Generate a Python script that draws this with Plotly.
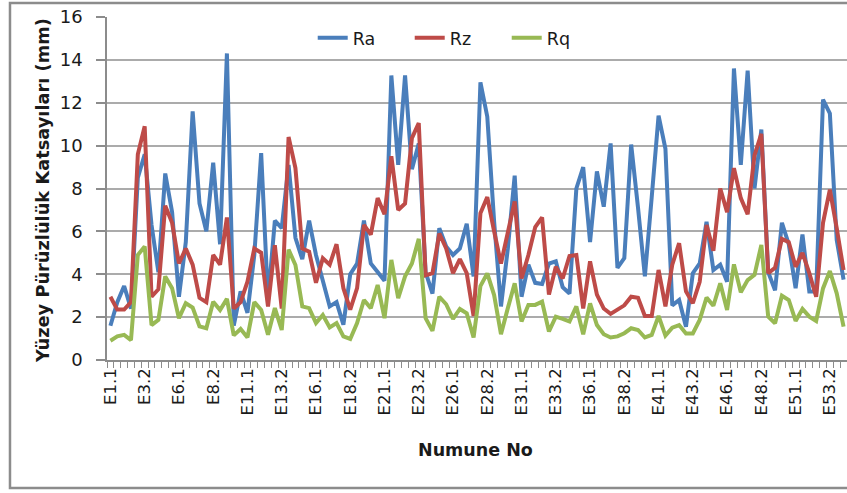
import plotly.graph_objects as go

# Sample identifiers: 54 specimens, two measurements each (E1.1 ... E54.2)
categories = [f"E{s}.{m}" for s in range(1, 55) for m in (1, 2)]

# Surface roughness parameters (mm)
ra = [1.6, 2.7, 3.45, 2.4, 8.5, 9.6, 6.3, 4.1, 8.7, 6.9,
      2.95, 5.5, 11.6, 7.3, 6.0, 9.2, 5.4, 14.3, 1.6, 3.2,
      2.2, 4.9, 9.65, 2.8, 6.5, 6.15, 9.1, 5.7, 4.7, 6.5,
      4.9, 3.65, 2.5, 2.7, 1.65, 4.0, 4.5, 6.5, 4.5, 4.1,
      3.7, 13.27, 9.1, 13.27, 8.9, 10.1, 4.1, 3.1, 6.15, 5.3,
      4.9, 5.2, 6.35, 3.9, 12.95, 11.35, 6.45, 2.5, 5.2, 8.6,
      2.95, 4.45, 3.6, 3.55, 4.5, 4.6, 3.4, 3.1, 8.0, 9.0,
      5.5, 8.8, 7.15, 10.1, 4.3, 4.75, 10.05, 7.1, 3.9, 7.6,
      11.4, 9.85, 2.55, 2.8, 1.55, 4.05, 4.5, 6.45, 4.2, 4.45,
      3.65, 13.6, 9.1, 13.5, 8.0, 10.75, 4.1, 3.25, 6.4, 5.4,
      3.35, 5.85, 3.2, 3.2, 12.15, 11.5, 5.6, 3.75]

rz = [2.95, 2.35, 2.35, 2.7, 9.6, 10.9, 2.95, 3.3, 7.2, 6.4,
      4.5, 5.2, 4.45, 2.9, 2.7, 4.9, 4.45, 6.65, 2.4, 2.7,
      3.65, 5.2, 5.0, 2.5, 5.35, 2.4, 10.4, 8.95, 5.2, 5.05,
      3.6, 4.75, 4.45, 5.4, 3.35, 2.35, 3.35, 6.3, 5.85, 7.55,
      6.8, 9.5, 7.0, 7.3, 10.35, 11.05, 3.95, 4.05, 5.9, 5.2,
      4.05, 4.7, 4.05, 2.05, 6.85, 7.6, 6.0, 4.5, 5.95, 7.4,
      3.8, 4.9, 6.2, 6.65, 3.05, 4.35, 3.8, 4.85, 4.9, 2.4,
      4.6, 3.05, 2.4, 2.15, 2.35, 2.55, 2.95, 2.9, 2.05, 2.05,
      4.2, 2.5, 4.45, 5.45, 3.2, 2.65, 3.65, 6.3, 5.1, 8.0,
      6.9, 8.95, 7.55, 6.8, 9.55, 10.55, 4.05, 4.3, 5.65, 5.5,
      4.35, 5.0, 4.05, 2.95, 6.4, 7.95, 6.15, 4.2]

rq = [0.9, 1.1, 1.17, 0.93, 4.9, 5.3, 1.63, 1.87, 3.9, 3.35,
      1.95, 2.65, 2.45, 1.57, 1.48, 2.72, 2.33, 2.85, 1.15, 1.45,
      1.05, 2.7, 2.33, 1.18, 2.42, 1.4, 5.15, 4.43, 2.5, 2.42,
      1.72, 2.1, 1.52, 1.72, 1.1, 0.98, 1.72, 2.8, 2.42, 3.5,
      1.95, 4.67, 2.88, 3.9, 4.5, 5.65, 1.95, 1.36, 2.95, 2.6,
      1.92, 2.38, 2.18, 1.05, 3.45, 4.04, 3.03, 1.2, 2.42, 3.58,
      1.8, 2.57, 2.57, 2.72, 1.33, 2.02, 1.92, 1.8, 2.5, 1.2,
      2.64, 1.63, 1.2, 1.05, 1.1, 1.25, 1.48, 1.4, 1.05, 1.17,
      2.06, 1.14, 1.51, 1.63, 1.24, 1.24, 1.87, 2.91, 2.53, 3.58,
      2.33, 4.46, 3.16, 3.73, 3.97, 5.37, 2.02, 1.71, 3.0, 2.8,
      1.82, 2.38, 2.02, 1.82, 3.34, 4.15, 3.11, 1.56]

# Only every fifth sample gets a visible label
tick_text = [c if i % 5 == 0 else "" for i, c in enumerate(categories)]

series = [("Ra", ra, "#4A7EBB"), ("Rz", rz, "#BE4B48"), ("Rq", rq, "#98B954")]

fig = go.Figure()
for name, vals, color in series:
    fig.add_trace(go.Scatter(
        x=categories, y=vals, name=name, mode="lines",
        line=dict(color=color, width=4),
        hoverinfo="skip",
    ))

AX = "#8c8c8c"
FONT = "DejaVu Sans"

fig.update_layout(
    width=847, height=493,
    margin=dict(l=107, r=0, t=17, b=133),
    paper_bgcolor="white", plot_bgcolor="white",
    font=dict(family=FONT, color="#1a1a1a"),
    showlegend=True,
    legend=dict(
        orientation="h", x=0.278, xanchor="left", y=0.9388, yanchor="middle",
        entrywidth=52, entrywidthmode="pixels",
        font=dict(size=17.5, family=FONT, color="#1a1a1a"),
        bgcolor="rgba(0,0,0,0)",
    ),
    xaxis=dict(
        type="category", categoryorder="array", categoryarray=categories,
        range=[-0.5, len(categories) - 0.5],
        tickmode="array", tickvals=categories, ticktext=tick_text,
        tickson="boundaries", ticks="outside", ticklen=6, tickwidth=1,
        tickcolor=AX, tickangle=-90,
        tickfont=dict(size=16.5, family=FONT, color="#1a1a1a"),
        showgrid=False, showline=True, linecolor=AX, linewidth=1.5,
        zeroline=False,
    ),
    yaxis=dict(
        range=[0, 16], dtick=2, tick0=0,
        showgrid=True, gridcolor="#ababab", gridwidth=1.5,
        ticks="outside", ticklen=9, tickcolor=AX, tickwidth=1.5,
        ticklabelstandoff=10,
        tickfont=dict(size=18, family=FONT, color="#1a1a1a"),
        showline=True, linecolor=AX, linewidth=1.5, zeroline=False,
    ),
    annotations=[
        dict(text="Yüzey Pürüzlülük Katsayıları (mm)", textangle=-90,
             xref="paper", yref="paper", x=-0.0878, y=0.4927,
             xanchor="center", yanchor="middle", showarrow=False,
             font=dict(size=17.8, family=FONT, weight="bold", color="#1a1a1a")),
        dict(text="Numune No",
             xref="paper", yref="paper", x=0.4986, y=-0.2624,
             xanchor="center", yanchor="middle", showarrow=False,
             font=dict(size=17.5, family=FONT, weight="bold", color="#1a1a1a")),
    ],
    shapes=[
        dict(type="rect", xref="paper", yref="paper",
             x0=-0.1311, x1=1.2, y0=-0.3732, y1=1.0408,
             line=dict(color=AX, width=2.5), layer="below"),
    ],
)

fig.write_html("out.html")
